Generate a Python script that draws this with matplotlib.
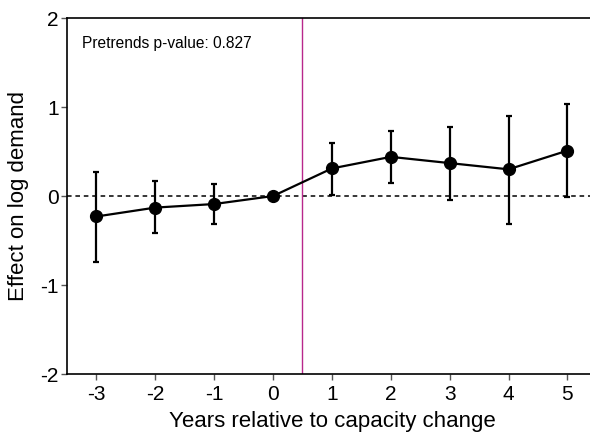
import matplotlib
matplotlib.use("Agg")
import matplotlib.pyplot as plt

plt.rcParams['font.family'] = ['Liberation Sans', 'DejaVu Sans']

years = [-3, -2, -1, 0, 1, 2, 3, 4, 5]
effect = [-0.23, -0.13, -0.09, 0.00, 0.31, 0.44, 0.37, 0.30, 0.51]
ci_low = [-0.74, -0.42, -0.31, 0.00, 0.01, 0.15, -0.04, -0.31, -0.01]
ci_high = [0.27, 0.17, 0.14, 0.00, 0.60, 0.73, 0.78, 0.90, 1.03]
pretrend_p = 0.827

fig = plt.figure(figsize=(5.9, 4.4), dpi=100)
ax = fig.add_axes([0.1136, 0.15, 0.898, 0.809])

# Error bars (skip the reference year, which has no interval)
ci_years = [y for y, lo, hi in zip(years, ci_low, ci_high) if hi > lo]
ci_lo = [lo for lo, hi in zip(ci_low, ci_high) if hi > lo]
ci_hi = [hi for lo, hi in zip(ci_low, ci_high) if hi > lo]
ax.vlines(ci_years, ci_lo, ci_hi, color='black', lw=1.6, zorder=3)
ax.scatter(ci_years, ci_lo, marker='_', s=24, color='black', linewidths=1.6, zorder=3)
ax.scatter(ci_years, ci_hi, marker='_', s=24, color='black', linewidths=1.6, zorder=3)

ax.plot(years, effect, color='black', lw=1.6, marker='o', markersize=8.5, zorder=4)

ax.axhline(0, color='black', lw=1.1, ls=(0, (3, 2.5)), zorder=2)
ax.axvline(0.5, color='#b8288c', lw=1.0, zorder=2)

ax.text(-3.25, 1.71, f"Pretrends p-value: {pretrend_p:.3f}", fontsize=11.2, va='center', ha='left')

ax.set_xlim(-3.5, 5.5)
ax.set_ylim(-2, 2)
ax.set_xticks(years)
ax.set_xticklabels([str(y) for y in years])
ax.set_yticks([-2, -1, 0, 1, 2])
ax.set_yticklabels(['-2', '-1', '0', '1', '2'])
ax.tick_params(axis='both', labelsize=15, direction='out', length=4, width=1, color='#555555')
ax.tick_params(axis='x', pad=4)
ax.tick_params(axis='y', pad=2)

ax.spines['right'].set_visible(False)
for s in ['left', 'bottom', 'top']:
    ax.spines[s].set_linewidth(1.2)

ax.set_xlabel('Years relative to capacity change', fontsize=16, labelpad=5)
ax.set_ylabel('Effect on log demand', fontsize=16, labelpad=8)

fig.savefig('out.png', dpi=100)
